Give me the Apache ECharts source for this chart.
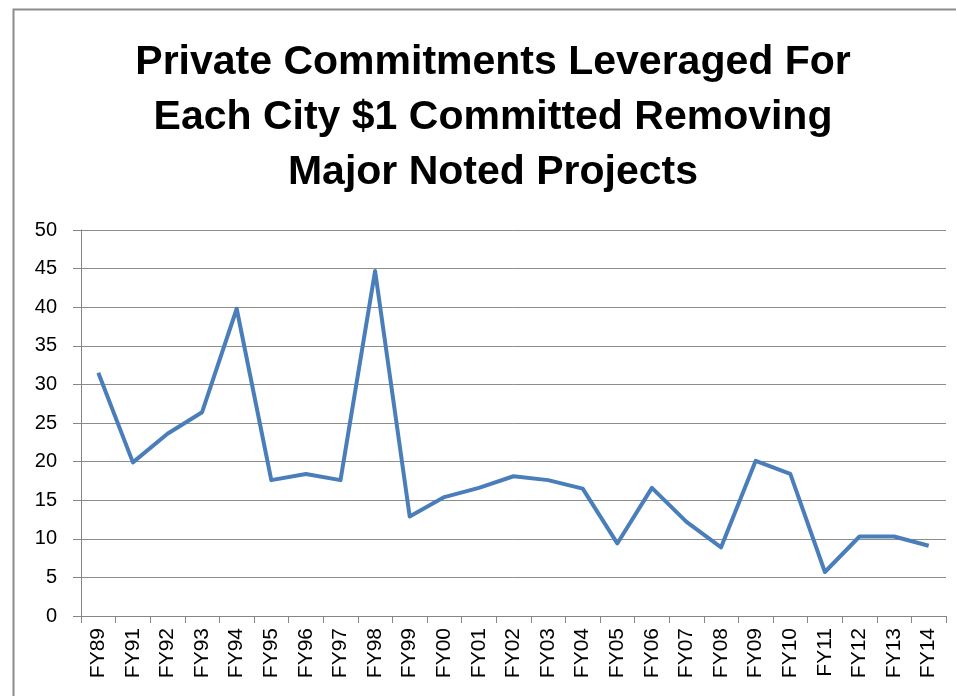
<!DOCTYPE html>
<html>
<head>
<meta charset="utf-8">
<script src="https://cdn.jsdelivr.net/npm/echarts@6/dist/echarts.min.js"></script>
<style>
html,body{margin:0;padding:0;background:#fff;}
#chart{width:956px;height:696px;}
</style>
</head>
<body>
<div id="chart"></div>
<script>
var titleLines = ['Private Commitments Leveraged For', 'Each City $1 Committed Removing', 'Major Noted Projects'];
var categories = ['FY89','FY91','FY92','FY93','FY94','FY95','FY96','FY97','FY98','FY99','FY00','FY01','FY02','FY03','FY04','FY05','FY06','FY07','FY08','FY09','FY10','FY11','FY12','FY13','FY14'];
var values = [31.5,19.9,23.6,26.4,39.8,17.6,18.4,17.6,44.7,12.9,15.4,16.6,18.1,17.6,16.5,9.4,16.6,12.2,8.9,20.1,18.4,5.7,10.3,10.3,9.1];
var yMin = 0, yMax = 50, yStep = 5;

var chart = echarts.init(document.getElementById('chart'));
chart.setOption({
  animation: false,
  backgroundColor: '#ffffff',
  graphic: [
    {type:'rect', left:11, top:7, shape:{x:0,y:0,width:1000,height:720}, style:{fill:'none', stroke:'#8c8c8c', lineWidth:2}, silent:true, z:-1},
    {type:'text', x:493, y:118, style:{text:titleLines.join('\n'), align:'center', verticalAlign:'middle', font:'bold 41px "Liberation Sans", Arial, sans-serif', lineHeight:55, fill:'#000'}}
  ],
  grid: {left:81, right:10, top:230, bottom:80, containLabel:false},
  xAxis: {
    type:'category', data:categories, boundaryGap:true,
    axisLine:{lineStyle:{color:'#868686', width:1}},
    axisTick:{show:true, length:7, alignWithLabel:false, lineStyle:{color:'#868686'}},
    axisLabel:{rotate:90, fontSize:21, fontFamily:'"Liberation Sans", Arial, sans-serif', color:'#000', margin:12, interval:0}
  },
  yAxis: {
    type:'value', min:yMin, max:yMax, interval:yStep,
    axisLine:{show:true, lineStyle:{color:'#868686', width:1}},
    axisTick:{show:true, length:8, lineStyle:{color:'#868686'}},
    splitLine:{lineStyle:{color:'#8c8c8c', width:1}},
    axisLabel:{fontSize:20, fontFamily:'"Liberation Sans", Arial, sans-serif', color:'#000', margin:24}
  },
  series: [{
    type:'line', data:values, symbol:'none', smooth:false,
    lineStyle:{color:'#4a7ebb', width:4, join:'round'}
  }]
});
</script>
</body>
</html>
